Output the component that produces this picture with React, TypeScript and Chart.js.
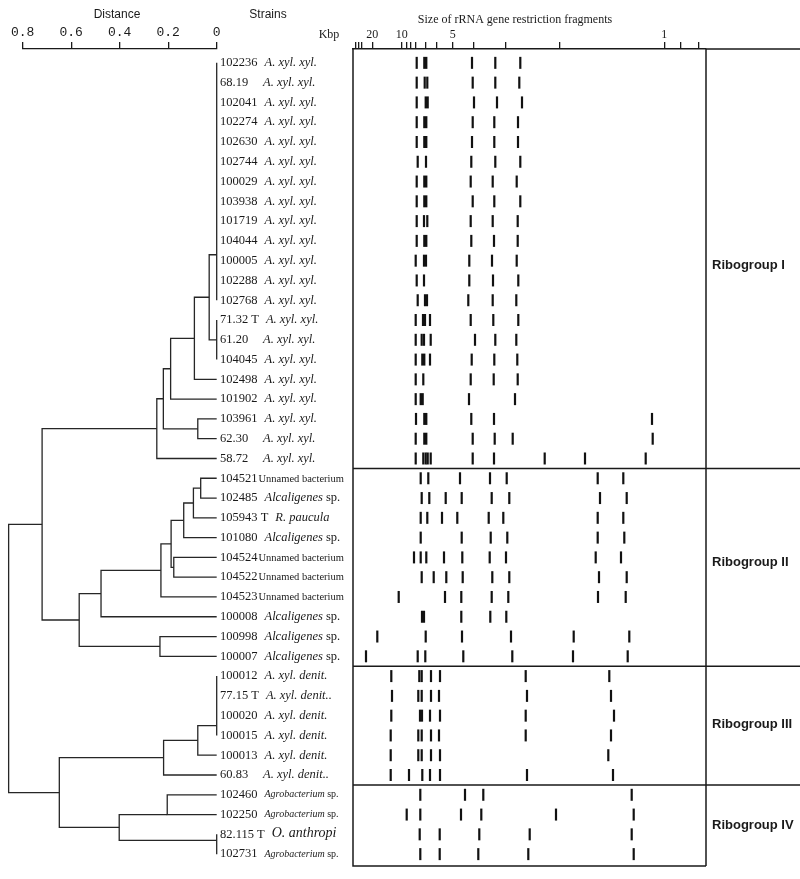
import { useEffect, useRef } from 'react';
import { Chart, registerables } from 'chart.js';

Chart.register(...registerables);

// ---------- Strains (one per row, top to bottom) ----------
const strainIds = [
  '102236', '68.19', '102041', '102274', '102630', '102744', '100029', '103938', '101719', '104044',
  '100005', '102288', '102768', '71.32 T', '61.20', '104045', '102498', '101902', '103961', '62.30', '58.72',
  '104521', '102485', '105943 T', '101080', '104524', '104522', '104523', '100008', '100998', '100007',
  '100012', '77.15 T', '100020', '100015', '100013', '60.83',
  '102460', '102250', '82.115 T', '102731',
];
const strainNames = [
  'A. xyl. xyl.', 'A. xyl. xyl.', 'A. xyl. xyl.', 'A. xyl. xyl.', 'A. xyl. xyl.', 'A. xyl. xyl.', 'A. xyl. xyl.',
  'A. xyl. xyl.', 'A. xyl. xyl.', 'A. xyl. xyl.', 'A. xyl. xyl.', 'A. xyl. xyl.', 'A. xyl. xyl.', 'A. xyl. xyl.',
  'A. xyl. xyl.', 'A. xyl. xyl.', 'A. xyl. xyl.', 'A. xyl. xyl.', 'A. xyl. xyl.', 'A. xyl. xyl.', 'A. xyl. xyl.',
  'Unnamed bacterium', 'Alcaligenes sp.', 'R. paucula', 'Alcaligenes sp.', 'Unnamed bacterium', 'Unnamed bacterium',
  'Unnamed bacterium', 'Alcaligenes sp.', 'Alcaligenes sp.', 'Alcaligenes sp.',
  'A. xyl. denit.', 'A. xyl. denit..', 'A. xyl. denit.', 'A. xyl. denit.', 'A. xyl. denit.', 'A. xyl. denit..',
  'Agrobacterium sp.', 'Agrobacterium sp.', 'O. anthropi', 'Agrobacterium sp.',
];

// ---------- Dendrogram (distance axis) ----------
const distanceTicks = [0, 0.2, 0.4, 0.6, 0.8];
const nodeNames = ['A', 'B', 'C', 'D', 'E', 'G', 'F', 'H', 'n1', 'n2', 'n3', 'n4', 'n5', 'n6', 'n7', 'n8', 'n9', 'IxII',
  'p1', 'p2', 'p3', 'q1', 'q2', 'q3', 'q4', 'root'];
const nodeDistances = [0, 0, 0.031, 0.092, 0.19, 0.078, 0.22, 0.247, 0.066, 0.096, 0.136, 0.177, 0.188, 0.23, 0.477,
  0.234, 0.567, 0.72, 0, 0.078, 0.219, 0.204, 0, 0.402, 0.649, 0.858];
const nodeChildren: (string | number)[][] = [
  [0, 1, 2, 3, 4, 5, 6, 7, 8, 9, 10, 11, 12], [13, 14, 15], ['A', 'B'], ['C', 16], ['D', 17], [18, 19], ['E', 'G'],
  ['F', 20], [21, 22], ['n1', 23], ['n2', 24], [25, 26], ['n3', 'n4'], ['n5', 27], ['n6', 28], [29, 30], ['n7', 'n8'],
  ['H', 'n9'], [31, 32, 33, 34], ['p1', 35], ['p2', 36], [37, 38], [39, 40], ['q1', 'q2'], ['p3', 'q3'], ['IxII', 'q4'],
];
const nodeStemRows: (number | null)[] = [9.7, null, null, null, null, null, null, null, null, null, null, null, null,
  null, null, null, null, null, 33.5, null, null, 38, 39.3, null, null, null];

// ---------- rRNA gene restriction fragments (migration units across the gel) ----------
const sizeTickPositions = [3, 6, 9, 19.3, 48.7, 53.7, 58, 63, 73, 83.7, 99.7, 120.3, 152.7, 207, 311.3, 327.7, 345.3];
const sizeTickLabels = ['', '', '', '20', '10', '', '', '', '', '', '5', '', '', '', '1', '', ''];

const bandPositions: number[][] = [
  [63.7, 119, 142.3, 167.3],
  [63.7, 71.7, 74.3, 119.7, 142.3, 166.3],
  [63.7, 121, 144, 169],
  [63.7, 119.7, 141.3, 165],
  [63.7, 119, 141.3, 165],
  [64.7, 73, 118.3, 142.3, 167.3],
  [63.7, 117.7, 139.7, 163.7],
  [63.7, 119.7, 141.3, 167.3],
  [63.7, 71, 74.3, 117.7, 139.7, 164.7],
  [63.7, 118.3, 141, 164.7],
  [62.7, 116.3, 139, 163.7],
  [63.7, 71, 116.3, 140, 165.3],
  [64.7, 115.3, 139.7, 163.3],
  [62.7, 77, 117.7, 140.3, 165.3],
  [62.7, 68.7, 71, 77.7, 122, 142.3, 163.3],
  [62.7, 77, 118.7, 141.3, 164.3],
  [62.7, 70.3, 117.7, 140.7, 164.7],
  [62.7, 116, 162],
  [63, 118.3, 141, 299],
  [62.7, 119.7, 141.7, 159.7, 299.7],
  [62.7, 70.3, 72.7, 74.7, 77.7, 119.7, 141, 191.7, 232, 292.7],
  [67.7, 75.3, 107, 137, 153.7, 244.7, 270.3],
  [68.7, 76.3, 92.7, 108.7, 138.7, 156.3, 247, 273.7],
  [67.7, 74.3, 89, 104.3, 135.7, 150.3, 244.7, 270.3],
  [67.7, 108.7, 137.7, 154.3, 244.7, 271.3],
  [61, 67.7, 73.3, 91, 109.3, 136.7, 153, 242.7, 268],
  [68.7, 80.7, 93.3, 109.7, 139.3, 156.3, 246, 273.7],
  [45.7, 92, 108.3, 138.7, 155.3, 245, 272.7],
  [69, 71, 108.3, 137.3, 153.3],
  [24.3, 72.7, 109, 158, 220.7, 276.3],
  [13, 64.7, 72.3, 110.3, 159.3, 220, 274.7],
  [38.3, 66.3, 68.7, 78, 87, 172.7, 256.3],
  [39, 65.3, 68.7, 78, 86, 174, 258],
  [38.3, 67, 69, 77, 87, 172.7, 261],
  [37.7, 65.3, 68.7, 78, 86, 172.7, 258],
  [37.7, 65.3, 68.7, 78, 87, 255.3],
  [37.7, 56, 69.3, 77, 87, 174, 260],
  [67.3, 112, 130.3, 278.7],
  [53.7, 67.3, 108, 128.3, 203, 280.7],
  [66.7, 86.7, 126.3, 176.7, 278.7],
  [67.3, 86.7, 125.3, 175.3, 280.7],
];
const heavyBandPositions: number[][] = [
  [72.3], [], [73.7], [72.3], [72.3], [], [72.3], [72.3], [], [72.3],
  [72], [], [73], [71], [], [70.3], [], [68.7], [72.3], [72.3], [],
  [], [], [], [], [], [], [], [], [], [],
  [], [], [], [], [], [],
  [], [], [], [],
];

const ribogroupNames = ['Ribogroup I', 'Ribogroup II', 'Ribogroup III', 'Ribogroup IV'];
const ribogroupLastRows = [20, 30, 36, 40];
const ribogroupLabelRows = [10.25, 25.25, 33.45, 38.55];

// ---------- layout constants (page pixels) ----------
const W = 800;
const H = 879;
const ROW_MIN = -0.7;
const ROW_MAX = 40.6;
const INK = '#1a1a1a';
const SERIF = '"Liberation Serif", "Times New Roman", serif';
const SANS = '"Liberation Sans", Arial, sans-serif';

function buildTreeSegments() {
  const stems = new Map<string, { d: number; row: number }>();
  const get = (k: string | number) => (typeof k === 'number' ? { d: 0, row: k } : stems.get(k)!);
  const segs: { x: number; y: number }[][] = [];
  nodeNames.forEach((name, i) => {
    const kids = nodeChildren[i].map(get);
    const first = kids[0];
    const last = kids[kids.length - 1];
    const d = nodeDistances[i];
    const row = nodeStemRows[i] ?? (first.row + last.row) / 2;
    stems.set(name, { d, row });
    segs.push([
      { x: first.d, y: first.row },
      { x: d, y: first.row },
      { x: d, y: last.row },
      { x: last.d, y: last.row },
    ]);
    kids.slice(1, -1).forEach((k) => {
      if (k.d !== d) segs.push([{ x: k.d, y: k.row }, { x: d, y: k.row }]);
    });
  });
  return segs;
}

function drawStrainLabel(ctx: CanvasRenderingContext2D, x: number, y: number, id: string, name: string) {
  ctx.textBaseline = 'middle';
  ctx.textAlign = 'left';
  ctx.fillStyle = INK;
  ctx.font = `12.5px ${SERIF}`;
  ctx.fillText(id, x, y);
  const idW = ctx.measureText(id).width;
  if (name === 'Unnamed bacterium') {
    ctx.font = `10.5px ${SERIF}`;
    ctx.fillText(name, x + idW + 1, y + 0.5);
    return;
  }
  const sx = Math.max(x + 43, x + idW + 7);
  if (name.endsWith(' sp.')) {
    const genus = name.slice(0, -4);
    const size = genus === 'Agrobacterium' ? 10 : 12.5;
    ctx.font = `italic ${size}px ${SERIF}`;
    ctx.fillText(genus, sx, y);
    const gw = ctx.measureText(genus).width;
    ctx.font = `${size}px ${SERIF}`;
    ctx.fillText(' sp.', sx + gw, y);
    return;
  }
  const size = name === 'O. anthropi' ? 14 : 12.5;
  ctx.font = `italic ${size}px ${SERIF}`;
  ctx.fillText(name, sx, y - (size > 13 ? 1 : 0));
}

export default function App() {
  const treeRef = useRef<HTMLCanvasElement>(null);
  const gelRef = useRef<HTMLCanvasElement>(null);

  useEffect(() => {
    const segs = buildTreeSegments();

    const treeLabels = {
      id: 'treeLabels',
      afterDraw(chart: any) {
        const ctx: CanvasRenderingContext2D = chart.ctx;
        const ys = chart.scales.y;
        ctx.save();
        ctx.fillStyle = INK;
        ctx.textAlign = 'center';
        ctx.textBaseline = 'middle';
        ctx.font = `12px ${SANS}`;
        ctx.fillText('Distance', 117, 15);
        ctx.fillText('Strains', 268, 15);
        strainIds.forEach((id, i) => {
          drawStrainLabel(ctx, 220, ys.getPixelForValue(i), id, strainNames[i]);
        });
        ctx.restore();
      },
    };

    const tree = new Chart(treeRef.current!, {
      type: 'scatter',
      data: {
        datasets: segs.map((s) => ({
          data: s,
          showLine: true,
          borderColor: '#262626',
          borderWidth: 1.3,
          pointRadius: 0,
          pointHoverRadius: 0,
          tension: 0,
          clip: false as any,
        })),
      },
      options: {
        responsive: false,
        animation: false,
        events: [],
        layout: { padding: { left: 22.7, right: W - 216.7, top: 0, bottom: H - 866 } },
        plugins: { legend: { display: false }, tooltip: { enabled: false } },
        scales: {
          x: {
            type: 'linear',
            position: 'top',
            reverse: true,
            min: 0,
            max: 0.8,
            afterFit: (s: any) => { s.height = 49; },
            afterBuildTicks: (s: any) => { s.ticks = distanceTicks.map((v) => ({ value: v })); },
            ticks: {
              autoSkip: false,
              maxRotation: 0,
              padding: 3,
              color: INK,
              font: { family: '"Liberation Mono", "Courier New", monospace', size: 13, lineHeight: 1 },
              callback: (v: any) => String(v),
            },
            grid: { drawOnChartArea: false, drawTicks: true, tickLength: 7, color: INK, lineWidth: 1.3 },
            border: { display: true, color: INK, width: 1.3 },
          },
          y: { type: 'linear', reverse: true, min: ROW_MIN, max: ROW_MAX, display: false },
        },
      },
      plugins: [treeLabels],
    } as any);

    const gelDecor = {
      id: 'gelDecor',
      afterDraw(chart: any) {
        const ctx: CanvasRenderingContext2D = chart.ctx;
        const { left, right, top, bottom } = chart.chartArea;
        const ys = chart.scales.y;
        ctx.save();
        ctx.strokeStyle = INK;
        ctx.lineWidth = 1.5;
        ctx.beginPath();
        ctx.moveTo(left, top);
        ctx.lineTo(left, bottom);
        ctx.lineTo(right, bottom);
        ctx.moveTo(right, top);
        ctx.lineTo(right, bottom);
        ctx.moveTo(right, top);
        ctx.lineTo(W, top);
        ribogroupLastRows.slice(0, -1).forEach((r) => {
          const y = ys.getPixelForValue(r + 0.5);
          ctx.moveTo(left, y);
          ctx.lineTo(W, y);
        });
        ctx.stroke();

        ctx.fillStyle = INK;
        ctx.textBaseline = 'middle';
        ctx.textAlign = 'center';
        ctx.font = `12px ${SERIF}`;
        ctx.fillText('Size of rRNA gene restriction fragments', 515, 20);
        ctx.fillText('Kbp', 329, 35);

        ctx.textAlign = 'left';
        ctx.font = `bold 13px ${SANS}`;
        ribogroupNames.forEach((name, i) => {
          ctx.fillText(name, 712, ys.getPixelForValue(ribogroupLabelRows[i]));
        });
        ctx.restore();
      },
    };

    const bandStyle = {
      showLine: false,
      pointStyle: 'line',
      pointRotation: 90,
      pointRadius: 6,
      pointHoverRadius: 6,
      pointBorderColor: '#111',
      borderColor: '#111',
      backgroundColor: '#111',
    };

    const gel = new Chart(gelRef.current!, {
      type: 'scatter',
      data: {
        datasets: [
          {
            ...bandStyle,
            pointBorderWidth: 2.2,
            data: bandPositions.flatMap((row, i) => row.map((m) => ({ x: m, y: i }))),
          },
          {
            ...bandStyle,
            pointBorderWidth: 4.2,
            data: heavyBandPositions.flatMap((row, i) => row.map((m) => ({ x: m, y: i }))),
          },
        ],
      },
      options: {
        responsive: false,
        animation: false,
        events: [],
        layout: { padding: { left: 353, right: W - 706, top: 0, bottom: H - 866 } },
        plugins: { legend: { display: false }, tooltip: { enabled: false } },
        scales: {
          x: {
            type: 'linear',
            position: 'top',
            min: 0,
            max: 353,
            afterFit: (s: any) => { s.height = 49; },
            afterBuildTicks: (s: any) => { s.ticks = sizeTickPositions.map((v) => ({ value: v })); },
            ticks: {
              autoSkip: false,
              maxRotation: 0,
              padding: 1,
              color: INK,
              font: { family: SERIF, size: 12, lineHeight: 1 },
              callback: (_v: any, i: number) => sizeTickLabels[i],
            },
            grid: { drawOnChartArea: false, drawTicks: true, tickLength: 7, color: INK, lineWidth: 1.3 },
            border: { display: true, color: INK, width: 1.5 },
          },
          y: { type: 'linear', reverse: true, min: ROW_MIN, max: ROW_MAX, display: false },
        },
      },
      plugins: [gelDecor],
    } as any);

    return () => {
      tree.destroy();
      gel.destroy();
    };
  }, []);

  return (
    <div style={{ position: 'absolute', left: 0, top: 0, width: W, height: H, background: '#fff' }}>
      <canvas ref={treeRef} width={W} height={H} style={{ position: 'absolute', left: 0, top: 0 }} />
      <canvas ref={gelRef} width={W} height={H} style={{ position: 'absolute', left: 0, top: 0 }} />
    </div>
  );
}
